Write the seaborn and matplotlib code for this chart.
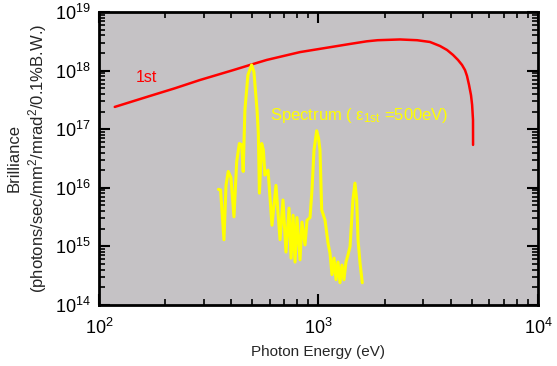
import pandas as pd
import seaborn as sns
import matplotlib.pyplot as plt

# first harmonic brilliance curve (eV, photons/sec/mm2/mrad2/0.1%B.W.)
first_energy = [118, 171, 222, 288, 409, 488, 581, 824, 1168, 1392, 1658, 1860,
                2350, 2813, 3220, 3577, 3850, 4101, 4320, 4506, 4650, 4748, 4850,
                4952, 5010, 5057, 5060]
first_brill = [2.4e17, 3.7e17, 5.0e17, 6.9e17, 1.02e18, 1.25e18, 1.52e18, 2.07e18,
               2.56e18, 2.85e18, 3.16e18, 3.3e18, 3.4e18, 3.3e18, 3.08e18, 2.63e18,
               2.25e18, 1.85e18, 1.52e18, 1.25e18, 1.02e18, 8.1e17, 5.7e17, 3.8e17,
               2.6e17, 1.44e17, 5.4e16]

# spectrum for e_1st = 500 eV
spec_energy = [350, 358, 371, 379, 388, 399, 412, 424, 436, 447, 454, 462, 477,
               496, 508, 525, 532, 538, 551, 561, 570, 589, 614, 640, 668, 689,
               711, 734, 750, 766, 782, 798, 824, 841, 868, 887, 915, 934, 954,
               981, 1000, 1016, 1034, 1071, 1090, 1105, 1128, 1152, 1177, 1202,
               1227, 1253, 1279, 1306, 1334, 1362, 1392, 1435, 1466, 1493, 1514,
               1546, 1583]
spec_brill = [9.4e15, 9.2e15, 1.3e15, 1.1e16, 1.9e16, 1.5e16, 3.2e15, 2.8e16,
              5.7e16, 5.4e16, 1.9e16, 2.1e17, 8.4e17, 1.25e18, 9.5e17, 2.1e17,
              8.5e16, 8.1e15, 5.7e16, 4.4e16, 1.65e16, 2.0e16, 2.3e15, 1.1e16,
              1.3e15, 6.2e15, 8.0e14, 4.5e15, 6.3e14, 3.4e15, 5.4e14, 3.1e15,
              5.9e14, 2.6e15, 1.06e15, 2.8e15, 3.1e15, 9.2e15, 4.4e16, 9.4e16,
              7.1e16, 4.4e16, 4.2e15, 2.8e15, 1.7e15, 1.14e15, 7.7e14, 3.3e14,
              6.3e14, 2.7e14, 5.4e14, 2.4e14, 4.8e14, 2.7e14, 5.4e14, 7.1e14,
              9.9e14, 6.2e15, 1.2e16, 6.2e15, 1.3e15, 5.2e14, 2.4e14]

first_df = pd.DataFrame({'energy': first_energy, 'brill': first_brill})
spec_df = pd.DataFrame({'energy': spec_energy, 'brill': spec_brill})

sns.set_theme(style='ticks')
plt.rcParams['font.family'] = ['Liberation Sans', 'DejaVu Sans']
plt.rcParams['mathtext.fontset'] = 'custom'
plt.rcParams['mathtext.rm'] = 'Liberation Sans'
plt.rcParams['mathtext.it'] = 'Liberation Sans:italic'
plt.rcParams['mathtext.default'] = 'regular'

fig = plt.figure(figsize=(5.57, 3.66), dpi=100, facecolor='white')
ax = fig.add_axes([0.1777, 0.1667, 0.7882, 0.8005])
ax.set_facecolor('#c5c2c5')

sns.lineplot(data=first_df, x='energy', y='brill', sort=False, estimator=None,
             color='#ff0000', linewidth=1.8, ax=ax)
sns.lineplot(data=spec_df, x='energy', y='brill', sort=False, estimator=None,
             color='#ffff00', linewidth=2.2, ax=ax)

ax.set_xscale('log')
ax.set_yscale('log')
ax.set_xlim(1e2, 1e4)
ax.set_ylim(1e14, 1e19)

ax.text(165, 7.5e17, '1st', color='#ff0000', fontsize=11.5, ha='center', va='center')
ax.text(601, 1.74e17, r'Spectrum ( $\varepsilon_{1st}$ =500eV)', color='#ffff00',
        fontsize=12, ha='left', va='center')

ax.set_xlabel('Photon Energy (eV)', fontsize=11, labelpad=5)
ax.set_ylabel('Brilliance\n(photons/sec/mm$^2$/mrad$^2$/0.1%B.W.)', fontsize=12,
              labelpad=4, linespacing=1.3)

for side in ax.spines.values():
    side.set_linewidth(2)
    side.set_color('black')
ax.tick_params(which='both', direction='in', top=True, right=True, colors='black')
ax.tick_params(which='major', length=8, width=1.5, labelsize=13, pad=6)
ax.tick_params(axis='x', which='major', pad=9)
ax.tick_params(which='minor', length=4, width=1.2)

plt.savefig('out.png', dpi=100, facecolor='white')
